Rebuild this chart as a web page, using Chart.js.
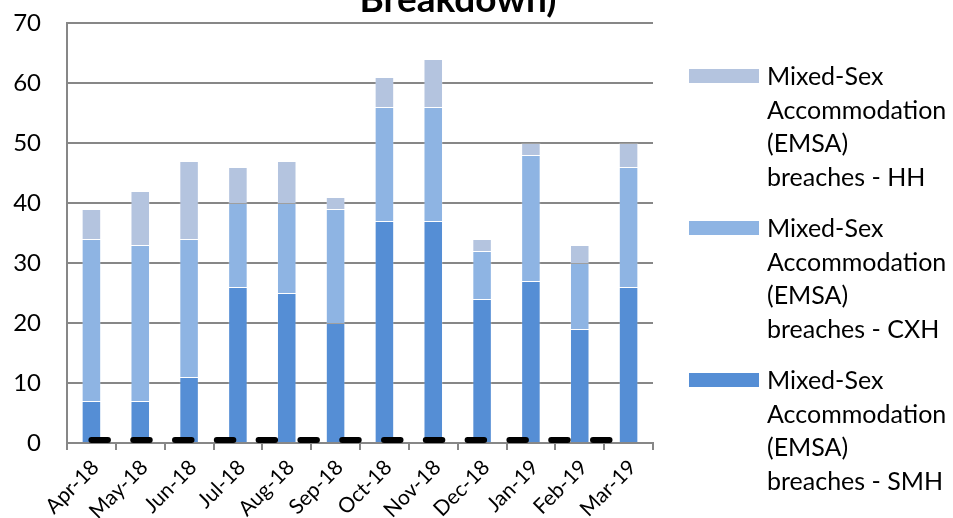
<!DOCTYPE html>
<html>
<head>
<meta charset="utf-8">
<script src="https://cdn.jsdelivr.net/npm/chart.js@4/dist/chart.umd.min.js"></script>
<style>
  html, body { margin: 0; padding: 0; background: #fff; overflow: hidden; }
  canvas { display: block; }
</style>
</head>
<body>
<canvas id="chart" width="953" height="518"></canvas>
<script>
(function() {
    'use strict';

    var months = ['Apr-18', 'May-18', 'Jun-18', 'Jul-18', 'Aug-18', 'Sep-18',
                  'Oct-18', 'Nov-18', 'Dec-18', 'Jan-19', 'Feb-19', 'Mar-19'];

    // breaches per site, stacked SMH -> CXH -> HH
    var smh = [7, 7, 11, 26, 25, 20, 37, 37, 24, 27, 19, 26];
    var cxh = [27, 26, 23, 14, 15, 19, 19, 19, 8, 21, 11, 20];
    var hh  = [5, 9, 13, 6, 7, 2, 5, 8, 2, 2, 3, 4];

    // target line plotted as black dashes along the bottom
    var target = [0.5, 0.5, 0.5, 0.5, 0.5, 0.5, 0.5, 0.5, 0.5, 0.5, 0.5, 0.5];

    var yTicks = [0, 10, 20, 30, 40, 50, 60, 70];

    var seriesNames = [
        ['Mixed-Sex', 'Accommodation', '(EMSA)', 'breaches - SMH'],
        ['Mixed-Sex', 'Accommodation', '(EMSA)', 'breaches - CXH'],
        ['Mixed-Sex', 'Accommodation', '(EMSA)', 'breaches - HH']
    ];
    var seriesColors = ['#558ED5', '#8EB4E3', '#B4C4DF'];

    var FONT = 'Lato, "Open Sans", sans-serif';
    var GRID = '#878787';

    function barSet(idx, values) {
        return {
            type: 'bar',
            label: seriesNames[idx].join(' '),
            data: values,
            backgroundColor: seriesColors[idx],
            borderColor: 'rgba(255,255,255,0.2)',
            borderWidth: 1,
            stack: 'sites',
            barPercentage: 0.4,
            categoryPercentage: 1
        };
    }

    // legend on the right, one wrapped entry per series (top of stack first)
    var sideLegend = {
        id: 'sideLegend',
        afterDraw: function(chart) {
            var ctx = chart.ctx;
            ctx.save();
            ctx.font = '25px ' + FONT;
            ctx.fillStyle = '#000';
            ctx.textBaseline = 'middle';
            ctx.textAlign = 'left';
            var order = [2, 1, 0];
            order.forEach(function(s, i) {
                var top = 76 + i * 152;
                ctx.fillStyle = seriesColors[s];
                ctx.fillRect(689, top - 7, 70, 14);
                ctx.fillStyle = '#000';
                seriesNames[s].forEach(function(line, j) {
                    ctx.fillText(line, 767, top + 1 + j * 33.5);
                });
            });

            // second line of the chart heading, partly above the canvas
            ctx.font = 'bold 37px ' + FONT;
            ctx.textAlign = 'center';
            ctx.textBaseline = 'alphabetic';
            ctx.fillText('Breakdown)', 458, 12);
            ctx.restore();
        }
    };

    new Chart(document.getElementById('chart'), {
        type: 'bar',
        data: {
            labels: months,
            datasets: [
                {
                    type: 'line',
                    label: 'Target',
                    data: target,
                    borderColor: '#000',
                    borderWidth: 6,
                    borderDash: [16.5, 25.3],
                    borderCapStyle: 'round',
                    pointRadius: 0,
                    fill: false,
                    stack: 'target',
                    order: -1
                },
                barSet(0, smh),
                barSet(1, cxh),
                barSet(2, hh)
            ]
        },
        options: {
            responsive: false,
            animation: false,
            layout: { autoPadding: false, padding: { top: 23, right: 300, left: 0, bottom: 0 } },
            plugins: {
                legend: { display: false },
                title: { display: false },
                tooltip: { enabled: false }
            },
            scales: {
                x: {
                    stacked: true,
                    offset: true,
                    grid: {
                        offset: true,
                        drawOnChartArea: false,
                        color: GRID,
                        lineWidth: 2,
                        tickLength: 7
                    },
                    border: { color: GRID, width: 2 },
                    ticks: {
                        color: '#000',
                        font: { family: FONT, size: 21 },
                        minRotation: 45,
                        maxRotation: 45,
                        padding: 5,
                        labelOffset: 4,
                        autoSkip: false
                    },
                    afterFit: function(scale) {
                        scale.height = 75;
                        scale.paddingLeft = 0;
                        scale.paddingRight = 0;
                    }
                },
                y: {
                    stacked: true,
                    min: yTicks[0],
                    max: yTicks[yTicks.length - 1],
                    afterBuildTicks: function(scale) {
                        scale.ticks = yTicks.map(function(v) { return { value: v }; });
                    },
                    grid: {
                        color: GRID,
                        lineWidth: 2,
                        drawTicks: false
                    },
                    border: { color: GRID, width: 2 },
                    ticks: {
                        color: '#000',
                        font: { family: FONT, size: 24 },
                        padding: 26
                    },
                    afterFit: function(scale) {
                        scale.width = 67;
                        scale.paddingTop = 0;
                        scale.paddingBottom = 0;
                    }
                }
            }
        },
        plugins: [sideLegend]
    });
})();
</script>
</body>
</html>
